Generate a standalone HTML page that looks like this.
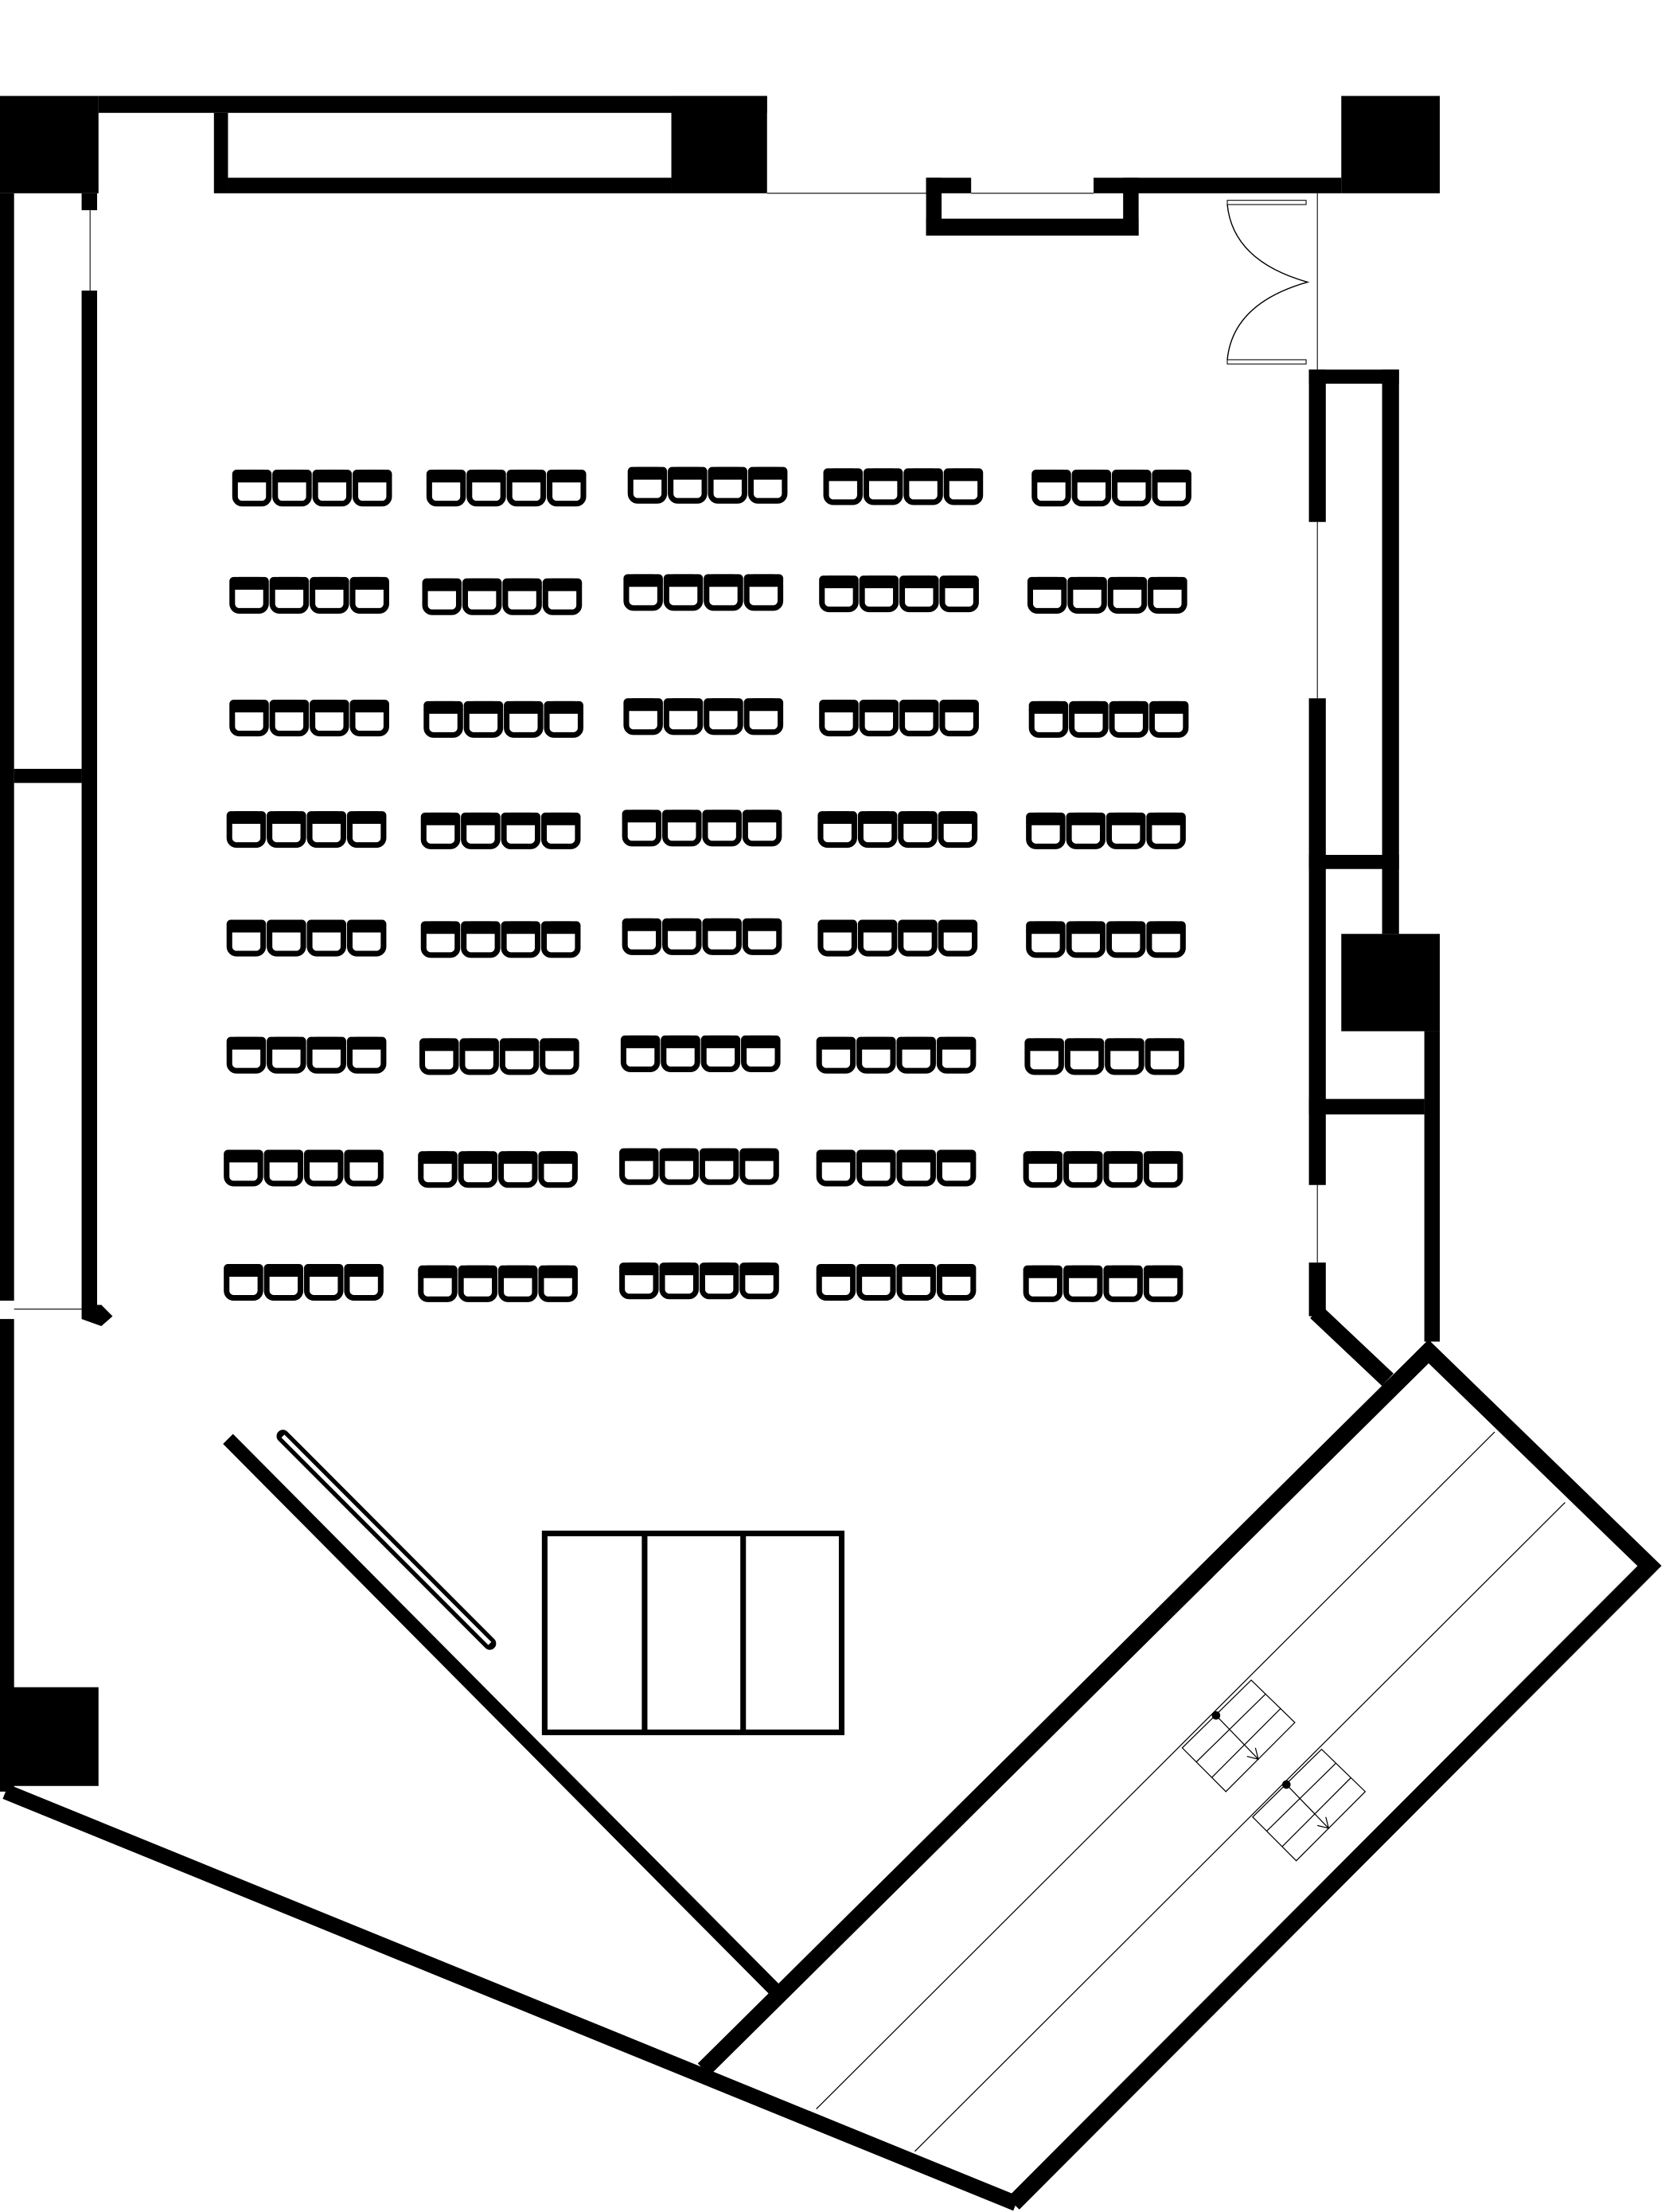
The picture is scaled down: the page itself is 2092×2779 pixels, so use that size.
<!DOCTYPE html>
<html><head><meta charset="utf-8"><style>html,body{margin:0;padding:0;background:#fff}svg{display:block}</style></head>
<body>
<svg width="2092" height="2779" viewBox="0 0 1183 1568" preserveAspectRatio="none" xmlns="http://www.w3.org/2000/svg">
<defs>
<g id="ch"><rect x="2" y="2" width="24" height="22" rx="5" fill="#fff" stroke="#000" stroke-width="4"/><rect x="0" y="0" width="28" height="9" rx="3" fill="#000"/></g>
<g id="gr"><use href="#ch" x="0"/><use href="#ch" x="28.5"/><use href="#ch" x="57"/><use href="#ch" x="85.5"/></g>
<g id="st" stroke="#000" fill="none" stroke-width="0.7">
<polygon points="889,1191 920,1221 871,1270 840,1239"/>
<line x1="899" y1="1201" x2="850" y2="1249"/><line x1="910" y1="1211" x2="861" y2="1260"/>
<line x1="864" y1="1216" x2="894" y2="1247"/>
<path d="M886,1245 L894,1247 L892,1239"/>
</g>
</defs>
<g fill="#000">
<rect x="0" y="68" width="70" height="69"/>
<rect x="70" y="68" width="475" height="12"/>
<rect x="477" y="68" width="68" height="69"/>
<rect x="152" y="80" width="10" height="57"/>
<rect x="162" y="126" width="315" height="11"/>
<rect x="953" y="68" width="70" height="69"/>
<rect x="777" y="126" width="176" height="11"/>
<rect x="658" y="126" width="32" height="11"/>
<rect x="658" y="126" width="11" height="41"/>
<rect x="658" y="155" width="151" height="12"/>
<rect x="798" y="126" width="11" height="41"/>
<rect x="0" y="137" width="10" height="785"/>
<rect x="0" y="935" width="10" height="335"/>
<rect x="10" y="545" width="48" height="10"/>
<rect x="58" y="137" width="11" height="12"/>
<rect x="58" y="206" width="11" height="722"/>
<polygon points="58,925 72,925 80,933 72,940 58,935"/>
<rect x="0" y="1196" width="70" height="70"/>
<rect x="930" y="262" width="64" height="10"/>
<rect x="982" y="262" width="12" height="400"/>
<rect x="930" y="262" width="12" height="108"/>
<rect x="930" y="495" width="12" height="345"/>
<rect x="930" y="606" width="64" height="10"/>
<rect x="953" y="662" width="70" height="69"/>
<rect x="1012" y="731" width="11" height="220"/>
<rect x="930" y="779" width="82" height="11"/>
<rect x="930" y="895" width="12" height="38"/>
</g>
<g stroke="#000" fill="none">
<line x1="545" y1="137" x2="658" y2="137" stroke-width="0.6"/>
<line x1="690" y1="137" x2="777" y2="137" stroke-width="0.6"/>
<line x1="64" y1="149" x2="64" y2="206" stroke-width="0.6"/>
<line x1="936" y1="137" x2="936" y2="262" stroke-width="0.6"/>
<line x1="936" y1="370" x2="936" y2="495" stroke-width="0.6"/>
<line x1="936" y1="840" x2="936" y2="895" stroke-width="0.6"/>
<line x1="10" y1="928" x2="58" y2="928" stroke-width="0.6"/>
<rect x="872" y="142" width="56" height="3" stroke-width="0.6"/>
<rect x="872" y="255" width="56" height="3" stroke-width="0.6"/>
<path d="M872,145 Q876,185 929,200 Q876,215 872,255" stroke-width="0.8"/>
<line x1="935" y1="930" x2="986" y2="978" stroke-width="12"/>
<line x1="4" y1="1270" x2="722" y2="1562" stroke-width="11"/>
<line x1="162" y1="1020" x2="553" y2="1413" stroke-width="10"/>
<line x1="201" y1="1018" x2="348" y2="1165" stroke-width="9" stroke-linecap="round"/>
<line x1="201" y1="1018" x2="348" y2="1165" stroke="#fff" stroke-width="3"/>
<polyline points="500,1467 1015,958 1172,1110 720,1562" stroke-width="12" stroke-linejoin="miter"/>
<line x1="1062" y1="1015" x2="580" y2="1495" stroke-width="0.7"/>
<line x1="1112" y1="1065" x2="650" y2="1525" stroke-width="0.7"/>
<rect x="387" y="1087" width="211" height="141" stroke-width="4"/>
<line x1="458" y1="1087" x2="458" y2="1228" stroke-width="4"/>
<line x1="528" y1="1087" x2="528" y2="1228" stroke-width="4"/>
</g>
<use href="#st"/><use href="#st" x="50" y="49"/>
<circle cx="864" cy="1216" r="3"/><circle cx="914" cy="1265" r="3"/>
<use href="#gr" x="165" y="333"/><use href="#gr" x="303" y="333"/><use href="#gr" x="446" y="331"/><use href="#gr" x="585" y="332"/><use href="#gr" x="733" y="333"/>
<use href="#gr" x="163" y="409"/><use href="#gr" x="300" y="410"/><use href="#gr" x="443" y="407"/><use href="#gr" x="582" y="408"/><use href="#gr" x="730" y="409"/>
<use href="#gr" x="163" y="496"/><use href="#gr" x="301" y="497"/><use href="#gr" x="443" y="495"/><use href="#gr" x="582" y="496"/><use href="#gr" x="731" y="497"/>
<use href="#gr" x="161" y="575"/><use href="#gr" x="299" y="576"/><use href="#gr" x="442" y="574"/><use href="#gr" x="581" y="575"/><use href="#gr" x="729" y="576"/>
<use href="#gr" x="161" y="652"/><use href="#gr" x="299" y="653"/><use href="#gr" x="442" y="651"/><use href="#gr" x="581" y="652"/><use href="#gr" x="729" y="653"/>
<use href="#gr" x="161" y="735"/><use href="#gr" x="298" y="736"/><use href="#gr" x="441" y="734"/><use href="#gr" x="580" y="735"/><use href="#gr" x="728" y="736"/>
<use href="#gr" x="159" y="815"/><use href="#gr" x="297" y="816"/><use href="#gr" x="440" y="814"/><use href="#gr" x="580" y="815"/><use href="#gr" x="727" y="816"/>
<use href="#gr" x="159" y="896"/><use href="#gr" x="297" y="897"/><use href="#gr" x="440" y="895"/><use href="#gr" x="580" y="896"/><use href="#gr" x="727" y="897"/>
</svg>
</body></html>
